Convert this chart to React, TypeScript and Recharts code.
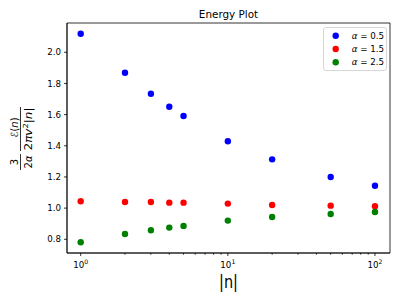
import React from 'react';
import { ScatterChart, Scatter, XAxis, YAxis, Legend, ReferenceArea } from 'recharts';

const nValues = [1, 2, 3, 4, 5, 10, 20, 50, 100];
const alpha05 = [2.119, 1.869, 1.734, 1.651, 1.591, 1.429, 1.313, 1.2, 1.144];
const alpha15 = [1.044, 1.039, 1.039, 1.035, 1.035, 1.029, 1.02, 1.016, 1.012];
const alpha25 = [0.781, 0.834, 0.858, 0.875, 0.886, 0.92, 0.943, 0.962, 0.975];
const seriesNames = ['0.5', '1.5', '2.5'];
const seriesColors = ['#0000ff', '#ff0000', '#008000'];

const xMajorTicks = [1, 10, 100];
const xMinorTicks = [2, 3, 4, 5, 6, 7, 8, 9, 20, 30, 40, 50, 60, 70, 80, 90];
const xTicks = [...xMajorTicks, ...xMinorTicks].sort((a, b) => a - b);
const yTicks = [0.8, 1.0, 1.2, 1.4, 1.6, 1.8, 2.0];
const xDomain = [0.807, 126.5];
const yDomain = [0.712, 2.188];

const FONT = 'DejaVu Sans, sans-serif';

const toData = (vals: number[]) => nValues.map((n, i) => ({ x: n, y: vals[i] }));
const series = [alpha05, alpha15, alpha25].map(toData);

const XTick = (props: any) => {
  const { x, y, payload } = props;
  const v = payload.value;
  const major = xMajorTicks.includes(v);
  return (
    <g>
      <line x1={x} x2={x} y1={y} y2={y + (major ? 3 : 1.7)} stroke="#000" strokeWidth={0.8} />
      {major && (
        <text x={x} y={y + 14.5} textAnchor="middle" fontSize={8.7} fontFamily={FONT} fill="#000">
          10<tspan dy={-3.4} fontSize={6.2}>{Math.round(Math.log10(v))}</tspan>
        </text>
      )}
    </g>
  );
};

const YTick = (props: any) => {
  const { x, y, payload } = props;
  return (
    <g>
      <line x1={x - 3} x2={x} y1={y} y2={y} stroke="#000" strokeWidth={0.8} />
      <text x={x - 6} y={y + 3.1} textAnchor="end" fontSize={8.7} fontFamily={FONT} fill="#000">
        {Number(payload.value).toFixed(1)}
      </text>
    </g>
  );
};

const YLabel = (props: any) => {
  const vb = props.viewBox || { x: 0, y: 23, width: 67, height: 230 };
  const cy = vb.y + vb.height / 2;
  const cx = 20.5;
  return (
    <g transform={`translate(${cx},${cy}) rotate(-90)`} fontFamily={FONT} fill="#000">
      <text x={-24} y={-3} textAnchor="middle" fontSize={10}>3</text>
      <line x1={-32} x2={-16} y1={0} y2={0} stroke="#000" strokeWidth={0.8} />
      <text x={-24} y={11.5} textAnchor="middle" fontSize={10}>
        2<tspan fontStyle="italic">α</tspan>
      </text>
      <text x={10.5} y={-3} textAnchor="middle" fontSize={10}>
        <tspan fontStyle="italic">ℰ</tspan>(<tspan fontStyle="italic">n</tspan>)
      </text>
      <line x1={-13} x2={31} y1={0} y2={0} stroke="#000" strokeWidth={0.8} />
      <text x={9} y={11.5} textAnchor="middle" fontSize={10} textLength={43} lengthAdjust="spacingAndGlyphs">
        2<tspan fontStyle="italic">πv</tspan><tspan dy={-4} fontSize={7}>2</tspan><tspan dy={4}>|</tspan><tspan fontStyle="italic">n</tspan>|
      </text>
    </g>
  );
};

const XLabel = (props: any) => {
  const vb = props.viewBox || { x: 67, y: 253, width: 323, height: 48 };
  return (
    <text x={vb.x + vb.width / 2} y={288} textAnchor="middle" fontSize={18} fontFamily={FONT} fill="#000" textLength={19} lengthAdjust="spacingAndGlyphs">
      |n|
    </text>
  );
};

const Title = (props: any) => {
  const vb = props.viewBox || { x: 67, y: 23, width: 323, height: 230 };
  return (
    <text x={vb.x + vb.width / 2} y={vb.y - 5.5} textAnchor="middle" fontSize={10.4} fontFamily={FONT} fill="#000">
      Energy Plot
    </text>
  );
};

const LegendBox = () => (
  <svg width={64} height={44} style={{ display: 'block', overflow: 'visible' }}>
    <rect x={0.5} y={0.5} width={63} height={43} rx={2.5} fill="rgba(255,255,255,0.8)" stroke="#cccccc" strokeWidth={0.8} />
    {seriesNames.map((name, i) => (
      <g key={name}>
        <circle cx={12.7} cy={8.7 + i * 13.3} r={3.2} fill={seriesColors[i]} />
        <text x={28.7} y={11.8 + i * 13.3} fontSize={8.7} fontFamily={FONT} fill="#000">
          <tspan fontStyle="italic">α</tspan> = {name}
        </text>
      </g>
    ))}
  </svg>
);

export default function App() {
  return (
    <div style={{ position: 'absolute', left: 0, top: 0, width: 401, height: 301, background: '#fff' }}>
      <ScatterChart width={401} height={301} margin={{ top: 23, right: 11, left: 0, bottom: 0 }}>
        <XAxis
          dataKey="x"
          type="number"
          scale="log"
          domain={xDomain}
          allowDataOverflow
          ticks={xTicks}
          interval={0}
          tick={<XTick />}
          tickLine={false}
          tickSize={0}
          tickMargin={0}
          height={48}
          axisLine={{ stroke: '#000', strokeWidth: 0.8 }}
          label={{ content: <XLabel /> }}
        />
        <YAxis
          dataKey="y"
          type="number"
          domain={yDomain}
          allowDataOverflow
          ticks={yTicks}
          interval={0}
          tick={<YTick />}
          tickLine={false}
          tickSize={0}
          tickMargin={0}
          width={67}
          axisLine={{ stroke: '#000', strokeWidth: 0.8 }}
          label={{ content: <YLabel /> }}
        />
        <ReferenceArea
          x1={xDomain[0]}
          x2={xDomain[1]}
          y1={yDomain[0]}
          y2={yDomain[1]}
          ifOverflow="visible"
          fill="none"
          fillOpacity={0}
          stroke="#000"
          strokeWidth={0.8}
          label={{ content: <Title /> }}
        />
        <Legend
          layout="horizontal"
          verticalAlign="middle"
          align="center"
          content={<LegendBox />}
          wrapperStyle={{ position: 'absolute', left: 322.5, top: 26.5, width: 64, height: 44 }}
        />
        {series.map((data, i) => (
          <Scatter
            key={seriesNames[i]}
            name={`α = ${seriesNames[i]}`}
            data={data}
            fill={seriesColors[i]}
            isAnimationActive={false}
            shape={(p: any) => <circle cx={p.cx} cy={p.cy} r={3.2} fill={seriesColors[i]} />}
          />
        ))}
      </ScatterChart>
    </div>
  );
}
